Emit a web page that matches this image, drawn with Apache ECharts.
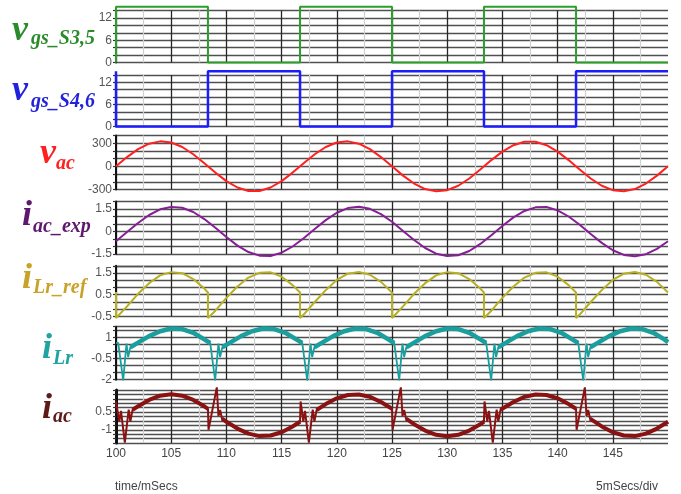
<!DOCTYPE html>
<html><head><meta charset="utf-8">
<script src="https://cdn.jsdelivr.net/npm/echarts@6/dist/echarts.min.js"></script>
<style>html,body{margin:0;padding:0;background:#fff}#c{width:681px;height:494px}</style>
</head><body><div id="c"></div>
<script>
// ---------- data (time in ms) ----------
const xTickLabels = [100,105,110,115,120,125,130,135,140,145];
const yLabels1 = [0,6,12];
const yLabels2 = [0,6,12];
const yLabels3 = [-300,0,300];
const yLabels4 = [-1.5,0,1.5];
const yLabels5 = [-0.5,0.5,1.5];
const yLabels6 = [-2,-0.5,1];
const yLabels7 = [-1,0.5];

const gateS35 = [[100,0],[100,15],[108.33,15],[108.33,0],[116.67,0],[116.67,15],[125,15],[125,0],[133.33,0],[133.33,15],[141.67,15],[141.67,0],[150,0]];
const gateS46 = [[100,15],[100,0],[108.33,0],[108.33,15],[116.67,15],[116.67,0],[125,0],[125,15],[133.33,15],[133.33,0],[141.67,0],[141.67,15],[150,15]];

const timeMs = [100,101,102,103,104,105,106,107,108,109,110,111,112,113,114,115,116,117,118,119,120,121,122,123,124,125,126,127,128,129,130,131,132,133,134,135,136,137,138,139,140,141,142,143,144,145,146,147,148,149,150];
const vac = [0,120,223,294,324,309,251,157,41,-81,-191,-274,-319,-319,-274,-191,-81,41,157,251,309,324,294,223,120,0,-120,-223,-294,-324,-309,-251,-157,-41,81,191,274,319,319,274,191,81,-41,-157,-251,-309,-324,-294,-223,-120,0];
const iacExp = [-0.65,-0.04,0.57,1.10,1.48,1.64,1.58,1.30,0.83,0.25,-0.37,-0.94,-1.37,-1.61,-1.63,-1.41,-1.00,-0.45,0.17,0.76,1.25,1.56,1.65,1.51,1.16,0.65,0.04,-0.57,-1.10,-1.48,-1.64,-1.58,-1.30,-0.83,-0.25,0.37,0.94,1.37,1.61,1.63,1.41,1.00,0.45,-0.17,-0.76,-1.25,-1.56,-1.65,-1.51,-1.16,-0.65];

const iLrRef = [[100,0.62],[100,-0.58],[101,-0.04],[102,0.54],[103,1.03],[104,1.39],[105,1.54],[106,1.49],[107,1.22],[108,0.78],[108.33,0.6],
[108.33,-0.58],[109,-0.24],[110,0.35],[111,0.88],[112,1.29],[113,1.51],[114,1.53],[115,1.33],[116,0.94],[116.67,0.6],
[116.67,-0.58],[117,-0.42],[118,0.16],[119,0.71],[120,1.18],[121,1.47],[122,1.55],[123,1.42],[124,1.09],[125,0.6],
[125,-0.58],[126,-0.04],[127,0.54],[128,1.03],[129,1.39],[130,1.54],[131,1.49],[132,1.22],[133,0.78],[133.33,0.6],
[133.33,-0.58],[134,-0.24],[135,0.35],[136,0.88],[137,1.29],[138,1.51],[139,1.53],[140,1.33],[141,0.94],[141.67,0.6],
[141.67,-0.58],[142,-0.42],[143,0.16],[144,0.71],[145,1.18],[146,1.47],[147,1.55],[148,1.42],[149,1.09],[150,0.6]];

const iLrTrace = [[100,0.6],[100.2,0.6],[100.65,-2.05],[100.95,0.55],[101.1,-0.4],[101.3,0.3],[102,0.62],[103,1.08],[104,1.43],[105,1.62],[106,1.58],[107,1.32],[108,0.85],
[108.53,0.6],[108.98,-2.05],[109.28,0.55],[109.43,-0.4],[109.63,0.3],[110.33,0.62],[111.33,1.08],[112.33,1.43],[113.33,1.62],[114.33,1.58],[115.33,1.32],[116.33,0.85],
[116.87,0.6],[117.32,-2.05],[117.62,0.55],[117.77,-0.4],[117.97,0.3],[118.67,0.62],[119.67,1.08],[120.67,1.43],[121.67,1.62],[122.67,1.58],[123.67,1.32],[124.67,0.85],
[125.2,0.6],[125.65,-2.05],[125.95,0.55],[126.1,-0.4],[126.3,0.3],[127,0.62],[128,1.08],[129,1.43],[130,1.62],[131,1.58],[132,1.32],[133,0.85],
[133.53,0.6],[133.98,-2.05],[134.28,0.55],[134.43,-0.4],[134.63,0.3],[135.33,0.62],[136.33,1.08],[137.33,1.43],[138.33,1.62],[139.33,1.58],[140.33,1.32],[141.33,0.85],
[141.87,0.6],[142.32,-2.05],[142.62,0.55],[142.77,-0.4],[142.97,0.3],[143.67,0.62],[144.67,1.08],[145.67,1.43],[146.67,1.62],[147.67,1.58],[148.67,1.32],[149.67,0.85],[150,0.66]];

const iLrBand = [[101.3,0.3],[102,0.62],[103,1.08],[104,1.43],[105,1.62],[106,1.58],[107,1.32],[108,0.85],[108.53,0.6],[108.6,null],
[109.63,0.3],[110.33,0.62],[111.33,1.08],[112.33,1.43],[113.33,1.62],[114.33,1.58],[115.33,1.32],[116.33,0.85],[116.87,0.6],[116.9,null],
[117.97,0.3],[118.67,0.62],[119.67,1.08],[120.67,1.43],[121.67,1.62],[122.67,1.58],[123.67,1.32],[124.67,0.85],[125.2,0.6],[125.3,null],
[126.3,0.3],[127,0.62],[128,1.08],[129,1.43],[130,1.62],[131,1.58],[132,1.32],[133,0.85],[133.53,0.6],[133.6,null],
[134.63,0.3],[135.33,0.62],[136.33,1.08],[137.33,1.43],[138.33,1.62],[139.33,1.58],[140.33,1.32],[141.33,0.85],[141.87,0.6],[141.9,null],
[142.97,0.3],[143.67,0.62],[144.67,1.08],[145.67,1.43],[146.67,1.62],[147.67,1.58],[148.67,1.32],[149.67,0.85],[150,0.66]];

const iacTrace = [[100,1.4],[100.3,-0.3],[100.45,0.6],[100.8,-2.1],[101.15,0.7],[101.3,-0.3],[101.5,0.7],[102,0.99],[103,1.53],[104,1.89],[105,2.01],[106,1.89],[107,1.53],[108,0.99],[108.33,0.78],
[108.38,-1.0],[109.13,2.6],[109.28,0.17],[109.43,0.68],[109.6,-0.06],[110,-0.32],[111,-0.9],[112,-1.33],[113,-1.54],[114,-1.49],[115,-1.21],[116,-0.72],[116.67,-0.32],
[116.72,1.4],[116.97,-0.3],[117.12,0.6],[117.47,-2.1],[117.82,0.7],[117.97,-0.3],[118.17,0.68],[119,1.18],[120,1.67],[121,1.95],[122,1.99],[123,1.79],[124,1.36],[125,0.78],
[125.05,-1.0],[125.8,2.6],[125.95,0.17],[126.1,0.68],[126.27,-0.06],[127,-0.53],[128,-1.07],[129,-1.43],[130,-1.55],[131,-1.43],[132,-1.07],[133,-0.53],[133.33,-0.32],
[133.38,1.4],[133.63,-0.3],[133.78,0.6],[134.13,-2.1],[134.48,0.7],[134.63,-0.3],[134.83,0.7],[135,0.78],[136,1.36],[137,1.79],[138,1.99],[139,1.95],[140,1.67],[141,1.18],[141.67,0.78],
[141.72,-1.0],[142.47,2.6],[142.62,0.17],[142.77,0.68],[142.94,-0.06],[143,-0.1],[144,-0.72],[145,-1.21],[146,-1.49],[147,-1.54],[148,-1.33],[149,-0.9],[150,-0.32]];

const iacBand = [[101.5,0.7],[102,0.99],[103,1.53],[104,1.89],[105,2.01],[106,1.89],[107,1.53],[108,0.99],[108.33,0.78],[108.4,null],
[109.6,-0.06],[110,-0.32],[111,-0.9],[112,-1.33],[113,-1.54],[114,-1.49],[115,-1.21],[116,-0.72],[116.67,-0.32],[116.7,null],
[118.17,0.68],[119,1.18],[120,1.67],[121,1.95],[122,1.99],[123,1.79],[124,1.36],[125,0.78],[125.02,null],
[126.27,-0.06],[127,-0.53],[128,-1.07],[129,-1.43],[130,-1.55],[131,-1.43],[132,-1.07],[133,-0.53],[133.33,-0.32],[133.35,null],
[134.83,0.7],[135,0.78],[136,1.36],[137,1.79],[138,1.99],[139,1.95],[140,1.67],[141,1.18],[141.67,0.78],[141.7,null],
[142.94,-0.06],[143,-0.1],[144,-0.72],[145,-1.21],[146,-1.49],[147,-1.54],[148,-1.33],[149,-0.9],[150,-0.32]];

// ---------- layout ----------
const panels = [
  {top:10.5, height:52,  min:0,     max:14,     interval:2,     labels:yLabels1},
  {top:75,   height:51.5,min:0,     max:14,     interval:2,     labels:yLabels2},
  {top:135.5,height:54,  min:-300,  max:400,    interval:100,   labels:yLabels3},
  {top:201.5,height:52.5,min:-1.5,  max:2,      interval:0.5,   labels:yLabels4},
  {top:265.8,height:50.5,min:-0.5,  max:-0.5+7/3,interval:1/3,  labels:yLabels5},
  {top:326.7,height:53,  min:-2,    max:1.75,   interval:0.5,   labels:yLabels6},
  {top:390,  height:53,  min:-2.125,max:2.375,  interval:0.375, labels:yLabels7}
];

const grid=[], xAxis=[], yAxis=[];
panels.forEach((p,i)=>{
  grid.push({left:116, right:13, top:p.top, height:p.height});
  xAxis.push({
    gridIndex:i, type:'value', min:100, max:150, interval:5,
    axisLine:{show:false}, axisTick:{show:false},
    axisLabel:{show:i===6, showMaxLabel:false, margin:5, color:'#444', fontSize:12, fontFamily:'Liberation Sans',
      formatter:v=>xTickLabels.indexOf(Math.round(v))>=0?String(Math.round(v)):''},
    splitLine:{show:true, showMaxLine:false, lineStyle:{color:'#262626', width:1.3}},
    minorTick:{show:false, splitNumber:2},
    minorSplitLine:{show:true, lineStyle:{color:'#d0d0d0', width:1.2}}
  });
  yAxis.push({
    gridIndex:i, type:'value', min:p.min, max:p.max, interval:p.interval,
    axisLine:{show:true, onZero:false, lineStyle:{color:'#111', width:i===6?3:2}},
    axisTick:{show:true, length:3, lineStyle:{color:'#333', width:1.2}},
    axisLabel:{margin:4, color:'#555', fontSize:12, fontFamily:'Liberation Sans',
      formatter:v=>{const m=p.labels.find(l=>Math.abs(l-v)<p.interval*0.05);return m===undefined?'':String(m);}},
    splitLine:{show:true, lineStyle:{color:'#505050', width:1.4}}
  });
});

function line(i, data, color, width, z){
  return {type:'line', xAxisIndex:i, yAxisIndex:i, data:data, showSymbol:false, symbol:'none',
    clip:false, animation:false, connectNulls:false, z:z||3,
    lineStyle:{color:color, width:width}, emphasis:{disabled:true}};
}
const series = [
  line(0, gateS35, '#2aa02a', 2),
  line(1, gateS46, '#1c1cff', 2.5),
  line(2, timeMs.map((t,k)=>[t,vac[k]]), '#ff2020', 2),
  line(3, timeMs.map((t,k)=>[t,iacExp[k]]), '#861f96', 2),
  line(4, iLrRef, '#b8b020', 2),
  line(5, iLrTrace, '#1a9e9e', 1.8),
  line(5, iLrBand, '#1a9e9e', 4.5, 4),
  line(6, iacTrace, '#8a1212', 2),
  line(6, iacBand, '#8a1212', 4, 4)
];

const SERIF = '"Liberation Serif","Times New Roman",serif';
function title(x, y, t, size, color){
  return {type:'text', x:x, y:y, silent:true, z:10,
    style:{text:t, font:'italic bold '+size+'px '+SERIF, fill:color, align:'left', verticalAlign:'middle', textAlign:'left', textVerticalAlign:'middle'}};
}
const graphic = [
  title(12, 31, 'v', 36, '#2b8a2b'), title(31, 39, 'gs_S3,5', 20, '#2b8a2b'),
  title(12, 91, 'v', 36, '#2222dd'), title(31, 102, 'gs_S4,6', 20, '#2222dd'),
  title(40, 154, 'v', 36, '#ff2020'), title(56, 164, 'ac', 20, '#ff2020'),
  title(22, 216, 'i', 36, '#5f1870'), title(33, 227, 'ac_exp', 20, '#5f1870'),
  title(22, 279, 'i', 36, '#c9a227'), title(33, 288, 'Lr_ref', 20, '#c9a227'),
  title(42, 349, 'i', 36, '#1fa3a3'), title(53, 359, 'Lr', 20, '#1fa3a3'),
  title(42, 409, 'i', 36, '#5c1a1a'), title(53, 417, 'ac', 20, '#5c1a1a'),
  {type:'text', x:115, y:487, silent:true, style:{text:'time/mSecs', font:'12px "Liberation Sans"', fill:'#444', align:'left', verticalAlign:'middle', textAlign:'left', textVerticalAlign:'middle'}},
  {type:'text', x:658, y:487, silent:true, style:{text:'5mSecs/div', font:'12px "Liberation Sans"', fill:'#444', align:'right', verticalAlign:'middle', textAlign:'right', textVerticalAlign:'middle'}}
];

const chart = echarts.init(document.getElementById('c'), null, {renderer:'canvas'});
chart.setOption({animation:false, backgroundColor:'#fff', grid, xAxis, yAxis, series, graphic});
</script></body></html>
